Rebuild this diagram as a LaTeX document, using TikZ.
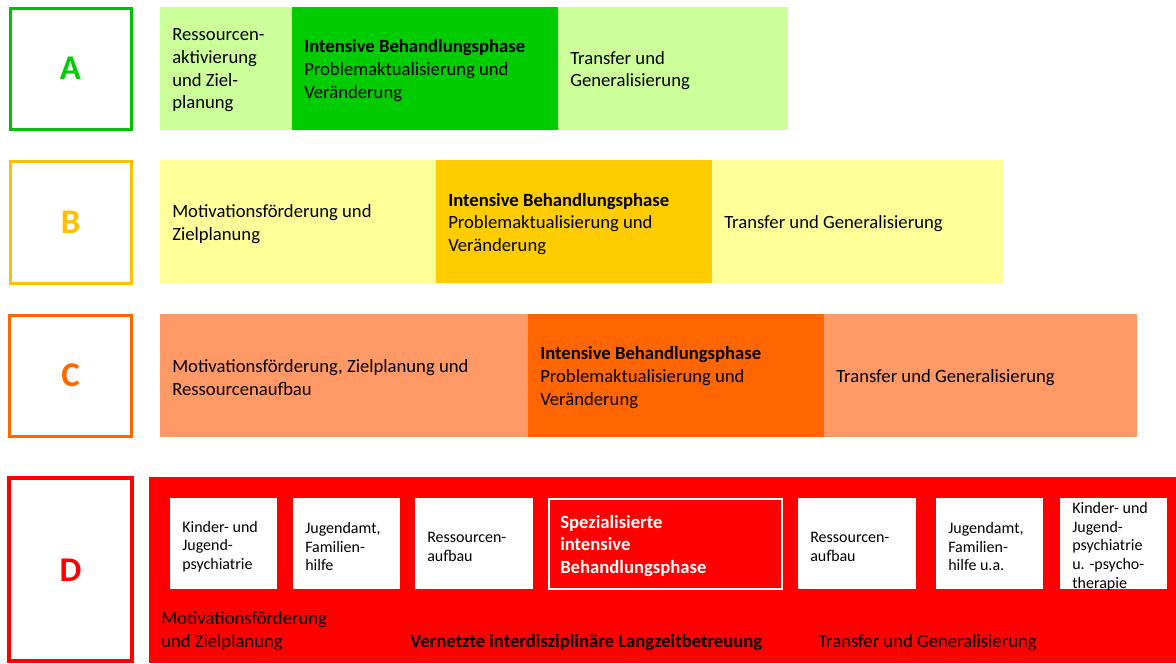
\documentclass[tikz,border=0pt]{standalone}
\usepackage{fontspec}
\setmainfont{Carlito}

\definecolor{aDark}{HTML}{00CC00}
\definecolor{aLight}{HTML}{CCFF99}
\definecolor{aLine}{HTML}{00C000}
\definecolor{bDark}{HTML}{FFCC00}
\definecolor{bLight}{HTML}{FFFF99}
\definecolor{bLine}{HTML}{FFC000}
\definecolor{cDark}{HTML}{FF6600}
\definecolor{cLight}{HTML}{FF9966}
\definecolor{cLine}{HTML}{FF6600}
\definecolor{dRed}{HTML}{FF0000}

\tikzset{
  txt/.style={anchor=west, align=left, inner xsep=9pt, inner ysep=0pt,
    yshift=-1.5pt, font=\fontsize{14}{17}\selectfont},
  small/.style={anchor=west, align=left, inner xsep=9pt, inner ysep=0pt,
    yshift=-2pt, font=\fontsize{12}{14}\selectfont},
  letter/.style={font=\bfseries\fontsize{26}{30}\selectfont},
  labelbox/.style={line width=2.25pt, fill=white},
}

\begin{document}
\begin{tikzpicture}[x=0.75pt, y=-0.75pt]
\useasboundingbox (0,0) rectangle (1176,663);

% row A
\draw[labelbox, draw=aLine] (10,8.5) rectangle (131.5,129.5);
\node[letter, text=aDark] (la) at (70.5,68.5) {A};
\fill[aLight] (160,7) rectangle (292,130);
\fill[aDark] (292,7) rectangle (558,130);
\fill[aLight] (558,7) rectangle (788,130);
\node[txt] (a1) at (160,68.5) {Ressourcen-\\aktivierung\\und Ziel-\\planung};
\node[txt] (a2) at (292,68.5) {\textbf{Intensive Behandlungsphase}\\Problemaktualisierung und\\Veränderung};
\node[txt] (a3) at (558,68.5) {Transfer und\\Generalisierung};

% row B
\draw[labelbox, draw=bLine] (10,161.5) rectangle (131.5,283);
\node[letter, text=bLine] (lb) at (70.5,222) {B};
\fill[bLight] (160,160) rectangle (436,283);
\fill[bDark] (436,160) rectangle (712,283);
\fill[bLight] (712,160) rectangle (1003,283);
\node[txt] (b1) at (160,222) {Motivationsförderung und\\Zielplanung};
\node[txt] (b2) at (436,222) {\textbf{Intensive Behandlungsphase}\\Problemaktualisierung und\\Veränderung};
\node[txt] (b3) at (712,222) {Transfer und Generalisierung};

% row C
\draw[labelbox, draw=cLine] (9.5,315.5) rectangle (131.5,436);
\node[letter, text=cLine] (lc) at (70.5,375.5) {C};
\fill[cLight] (160,314) rectangle (528,437);
\fill[cDark] (528,314) rectangle (824,437);
\fill[cLight] (824,314) rectangle (1137,437);
\node[txt] (c1) at (160,375.5) {Motivationsförderung, Zielplanung und\\Ressourcenaufbau};
\node[txt] (c2) at (528,375.5) {\textbf{Intensive Behandlungsphase}\\Problemaktualisierung und\\Veränderung};
\node[txt] (c3) at (824,375.5) {Transfer und Generalisierung};

% row D
\draw[labelbox, line width=3pt, draw=dRed] (9,478) rectangle (132,661);
\node[letter, text=dRed] (ld) at (70.5,570) {D};
\fill[dRed] (149,477) rectangle (1176,663);
\fill[white] (170,498) rectangle (277,589);
\fill[white] (293,498) rectangle (400,589);
\fill[white] (415,498) rectangle (533,589);
\draw[white, line width=1.5pt] (549,499) rectangle (782,589);
\fill[white] (798,498) rectangle (916,589);
\fill[white] (936,498) rectangle (1043,589);
\fill[white] (1060,498) rectangle (1167,589);
\node[small] (d1) at (170,544) {Kinder- und\\Jugend-\\psychiatrie};
\node[small] (d2) at (293,544) {Jugendamt,\\Familien-\\hilfe};
\node[small] (d3) at (415,544) {Ressourcen-\\aufbau};
\node[txt, text=white, font=\bfseries\fontsize{14}{17}\selectfont] (d4) at (548,544)
  {Spezialisierte\\intensive\\Behandlungsphase};
\node[small] (d5) at (798,544) {Ressourcen-\\aufbau};
\node[small] (d6) at (936,544) {Jugendamt,\\Familien-\\hilfe u.a.};
\node[small] (d7) at (1060,544) {Kinder- und\\Jugend-\\psychiatrie\\u. -psycho-\\therapie};
\node[txt] (dMot) at (149,629) {Motivationsförderung\\und Zielplanung};
\node[txt, font=\bfseries\fontsize{14}{17}\selectfont, anchor=base west] (dNet) at (398,645)
  {Vernetzte interdisziplinäre Langzeitbetreuung};
\node[txt, anchor=base west] (dTrans) at (806,645) {Transfer und Generalisierung};
\end{tikzpicture}
\end{document}
